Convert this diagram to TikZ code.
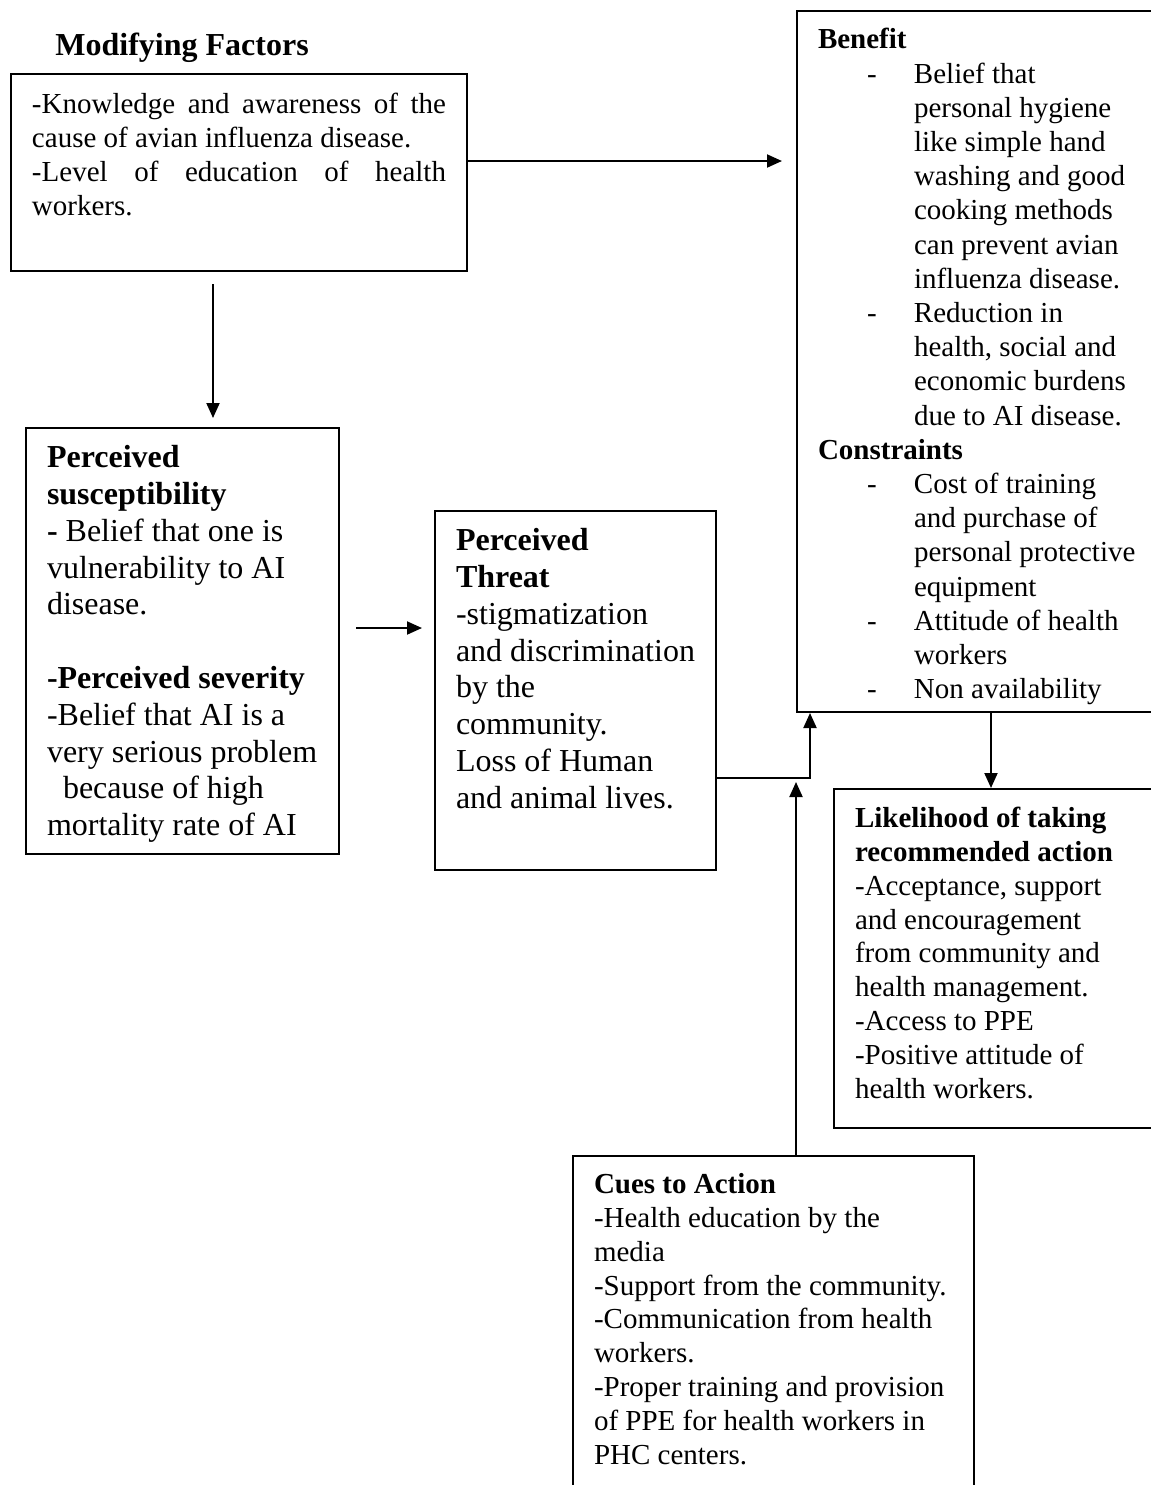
\documentclass[tikz,border=0pt]{standalone}
\usepackage{fontspec}
\setmainfont{Liberation Serif}
\usetikzlibrary{arrows.meta}
\hyphenpenalty=10000
\exhyphenpenalty=10000
\newcommand{\bodysize}{\fontsize{14.5}{16.9}\selectfont}
\newcommand{\bigsize}{\fontsize{16}{18.4}\selectfont}
% width, height, gap above first line, text
\newcommand{\boxtext}[4]{\parbox[t][#2][t]{#1}{\vspace*{#3}\strut #4}}
\newcommand{\dashitem}[1]{\par\noindent\hangindent=48pt\hangafter=1\makebox[48pt][l]{\hspace{24.5pt}-}#1}
\tikzstyle{factor} = [draw=black, line width=1pt, anchor=north west, inner xsep=10.5pt, inner ysep=0pt, font=\bodysize]
\tikzstyle{link} = [line width=1pt, -{Triangle[width=6.5pt, length=7.5pt]}]
\begin{document}
\begin{tikzpicture}[x=0.5pt, y=-0.5pt]
        \useasboundingbox (0,0) rectangle (1151,1485);

        \node (title) [anchor=base west, inner sep=0pt, font=\bfseries\bigsize] at (55,55) {Modifying Factors};
        \node (modify) [factor] at (10,73) {\boxtext{207pt}{98.5pt}{8pt}{-Knowledge and awareness of the\linebreak cause of avian influenza disease.\par -Level of education of health\linebreak workers.}};
        \node (benefit) [factor, font=\fontsize{14.5}{17.1}\selectfont] at (796,10) {\boxtext{161pt}{350.5pt}{7pt}{\textbf{Benefit}
            \dashitem{Belief that\newline personal hygiene\newline like simple hand\newline washing and good\newline cooking methods\newline can prevent avian\newline influenza disease.}
            \dashitem{Reduction in\newline health, social and\newline economic burdens\newline due to AI disease.}
            \par\noindent\textbf{Constraints}
            \dashitem{Cost of training\newline and purchase of\newline personal protective\newline equipment}
            \dashitem{Attitude of health\newline workers}
            \dashitem{Non availability}}};

        \node (suscept) [factor, font=\bigsize] at (25,427) {\boxtext{135.5pt}{213pt}{7pt}{\textbf{Perceived}\\ \textbf{susceptibility}\\ \textbf{-} Belief that one is\\ vulnerability to AI\\ disease.\\ \strut\\ \textbf{-Perceived severity}\\ -Belief that AI is a\\ very serious problem\\ \hspace*{8pt}because of high\\ mortality rate of AI}};
        \node (threat) [factor, font=\bigsize] at (434,510) {\boxtext{119.5pt}{179.5pt}{7pt}{\textbf{Perceived}\\ \textbf{Threat}\\ -stigmatization\\ and discrimination\\ by the\\ community.\\ Loss of Human\\ and animal lives.}};

        \node (likely) [factor] at (833,788) {\boxtext{142.5pt}{169.5pt}{7.5pt}{\textbf{Likelihood of taking}\\ \textbf{recommended action}\\ -Acceptance, support\\ and encouragement\\ from community and\\ health management.\\ -Access to PPE\\ -Positive attitude of\\ health workers.}};
        \node (cues) [factor] at (572,1155) {\boxtext{179.5pt}{180pt}{7pt}{\textbf{Cues to Action}\\ -Health education by the\\ media\\ -Support from the community.\\ -Communication from health\\ workers.\\ -Proper training and provision\\ of PPE for health workers in\\ PHC centers.}};

        \coordinate (meet) at (796,782);

        \draw [link, shorten >=7pt] (modify.east |- 0,161) -- (benefit.west |- 0,161);
        \draw [link, shorten <=6pt, shorten >=4.5pt] (modify.south -| 213,0) -- (suscept.north -| 213,0);
        \draw [link, shorten <=8pt, shorten >=6pt] (suscept.east |- 0,628) -- (threat.west |- 0,628);
        \draw [link] (threat.east |- 0,778) -| (benefit.south -| 810,0);
        \draw [link] (cues.north -| meet) -- (meet);
        \draw [link] (benefit.south -| 991,0) -- (likely.north -| 991,0);
    \end{tikzpicture}
\end{document}
